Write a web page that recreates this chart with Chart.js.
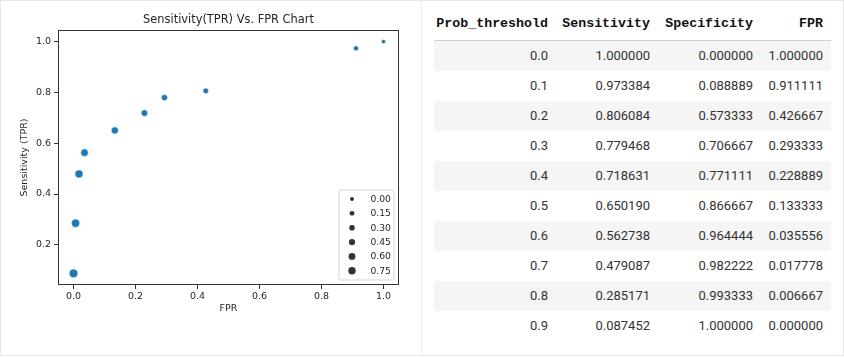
<!DOCTYPE html>
<html><head><meta charset="utf-8">
<script src="https://cdn.jsdelivr.net/npm/chart.js@4.4.1/dist/chart.umd.min.js"></script>
<style>
html,body{margin:0;padding:0;background:#fff;width:844px;height:357px;overflow:hidden;}
#frame{position:absolute;left:0;top:0;width:842px;height:354px;border:1px solid #e6e6f2;}
#chartBox{position:absolute;left:0;top:0;width:420px;height:357px;}
#divider{position:absolute;left:421px;top:1px;width:1px;height:354px;background:#efeff3;}
table{position:absolute;left:434px;top:9px;border-collapse:collapse;table-layout:fixed;border-spacing:0;}
th{font:bold 13.3px "Liberation Mono",monospace;color:#111;text-align:right;height:31px;padding:0 8px 0 0;border-bottom:1px solid #d0d0d0;box-sizing:border-box;line-height:30px;white-space:nowrap;}
td{font:13px Roboto,sans-serif;color:#333;text-align:right;height:30px;padding:0 8px 0 0;box-sizing:border-box;line-height:30px;white-space:nowrap;}
tr.stripe td{background:#f5f5f5;}
</style>
</head>
<body>
<div id="frame"></div>
<div id="chartBox"><canvas id="c" width="420" height="357" style="width:420px;height:357px"></canvas></div>
<div id="divider"></div>
<table id="tbl">
<colgroup><col style="width:122px"><col style="width:102px"><col style="width:103px"><col style="width:70px"></colgroup>
<thead><tr id="hdr"></tr></thead>
<tbody id="tb"></tbody>
</table>
<script>
const columns = ["Prob_threshold", "Sensitivity", "Specificity", "FPR"];
const thresholds = [0.0, 0.1, 0.2, 0.3, 0.4, 0.5, 0.6, 0.7, 0.8, 0.9];
const sensitivity = [1.000000, 0.973384, 0.806084, 0.779468, 0.718631, 0.650190, 0.562738, 0.479087, 0.285171, 0.087452];
const specificity = [0.000000, 0.088889, 0.573333, 0.706667, 0.771111, 0.866667, 0.964444, 0.982222, 0.993333, 1.000000];
const fpr = [1.000000, 0.911111, 0.426667, 0.293333, 0.228889, 0.133333, 0.035556, 0.017778, 0.006667, 0.000000];
const xTicks = [0.0, 0.2, 0.4, 0.6, 0.8, 1.0];
const yTicks = [0.2, 0.4, 0.6, 0.8, 1.0];
const legendValues = [0.00, 0.15, 0.30, 0.45, 0.60, 0.75];
const chartTitle = "Sensitivity(TPR) Vs. FPR Chart";
const xTitle = "FPR";
const yTitle = "Sensitivity (TPR)";

// table
const hdr = document.getElementById('hdr');
columns.forEach(c => { const th = document.createElement('th'); th.textContent = c; hdr.appendChild(th); });
const tb = document.getElementById('tb');
thresholds.forEach((t, i) => {
  const tr = document.createElement('tr');
  if (i % 2 === 0) tr.className = 'stripe';
  [t.toFixed(1), sensitivity[i].toFixed(6), specificity[i].toFixed(6), fpr[i].toFixed(6)].forEach(v => {
    const td = document.createElement('td'); td.textContent = v; tr.appendChild(td);
  });
  tb.appendChild(tr);
});

// size mapping (seaborn-like: area linear in value)
const tMin = Math.min(...thresholds), tMax = Math.max(...thresholds);
function radiusFor(v) {
  const n = (v - tMin) / (tMax - tMin);
  return 4.4 * Math.sqrt((1 + 3 * n) / 4);
}

const yMinD = Math.min(...sensitivity), yMaxD = Math.max(...sensitivity);
const xMinD = Math.min(...fpr), xMaxD = Math.max(...fpr);
const mx = 0.05 * (xMaxD - xMinD), my = 0.05 * (yMaxD - yMinD);

const tickFont = {family: 'DejaVu Sans', size: 9.5};
const txtColor = '#262626';

const decor = {
  id: 'decor',
  afterDraw(chart) {
    const {ctx, chartArea: a} = chart;
    ctx.save();
    ctx.strokeStyle = '#333';
    ctx.lineWidth = 1;
    ctx.strokeRect(Math.round(a.left) + 0.5, Math.round(a.top) + 0.5, Math.round(a.right - a.left) - 1, Math.round(a.bottom - a.top) - 1);
    ctx.fillStyle = txtColor;
    ctx.font = '11.4px "DejaVu Sans"';
    ctx.textAlign = 'center';
    ctx.textBaseline = 'middle';
    ctx.fillText(chartTitle, (a.left + a.right) / 2, 20);
    const bw = 55, bh = 90;
    const bx = a.right - 5 - bw, by = a.bottom - 5 - bh;
    ctx.fillStyle = 'rgba(255,255,255,0.8)';
    ctx.strokeStyle = '#d6d6d6';
    ctx.lineWidth = 1;
    const r = 2;
    ctx.beginPath();
    ctx.moveTo(bx + r, by);
    ctx.arcTo(bx + bw, by, bx + bw, by + bh, r);
    ctx.arcTo(bx + bw, by + bh, bx, by + bh, r);
    ctx.arcTo(bx, by + bh, bx, by, r);
    ctx.arcTo(bx, by, bx + bw, by, r);
    ctx.closePath();
    ctx.fill();
    ctx.stroke();
    ctx.font = '9.2px "DejaVu Sans"';
    ctx.textAlign = 'left';
    legendValues.forEach((v, i) => {
      const y = by + 9 + i * 14.35;
      ctx.beginPath();
      ctx.fillStyle = '#333';
      ctx.arc(bx + 13, y, radiusFor(v) * 0.9, 0, Math.PI * 2);
      ctx.fill();
      ctx.fillStyle = txtColor;
      ctx.fillText(v.toFixed(2), bx + 31.5, y + 0.5);
    });
    ctx.restore();
  }
};

new Chart(document.getElementById('c'), {
  type: 'scatter',
  data: {
    datasets: [{
      data: thresholds.map((t, i) => ({x: fpr[i], y: sensitivity[i]})),
      backgroundColor: '#1f77b4',
      borderColor: '#ffffff',
      borderWidth: 0.6,
      pointRadius: ctx => radiusFor(thresholds[ctx.dataIndex]),
      pointHoverRadius: ctx => radiusFor(thresholds[ctx.dataIndex])
    }]
  },
  options: {
    responsive: false,
    animation: false,
    devicePixelRatio: 1,
    layout: {padding: {left: 0, right: 21, top: 30, bottom: 0}},
    plugins: {legend: {display: false}, tooltip: {enabled: false}, title: {display: false}},
    scales: {
      x: {
        type: 'linear',
        min: xMinD - mx, max: xMaxD + mx,
        afterBuildTicks: s => { s.ticks = xTicks.map(v => ({value: v})); },
        afterFit: s => { s.height = 72; },
        ticks: {callback: v => Number(v).toFixed(1), font: tickFont, color: txtColor, padding: 2, maxRotation: 0, autoSkip: false},
        grid: {display: true, drawOnChartArea: false, tickLength: 4, color: '#333', tickColor: '#333', tickWidth: 1},
        border: {display: false},
        title: {display: true, text: xTitle, font: tickFont, color: txtColor, padding: {top: 0, bottom: 43}}
      },
      y: {
        type: 'linear',
        min: yMinD - my, max: yMaxD + my,
        afterBuildTicks: s => { s.ticks = yTicks.map(v => ({value: v})); },
        afterFit: s => { s.width = 58; },
        ticks: {callback: v => Number(v).toFixed(1), font: tickFont, color: txtColor, padding: 3, autoSkip: false},
        grid: {display: true, drawOnChartArea: false, tickLength: 4, color: '#333', tickColor: '#333', tickWidth: 1},
        border: {display: false},
        title: {display: true, text: yTitle, font: tickFont, color: txtColor, padding: {top: 19, bottom: 0}}
      }
    }
  },
  plugins: [decor]
});
</script>
</body></html>
